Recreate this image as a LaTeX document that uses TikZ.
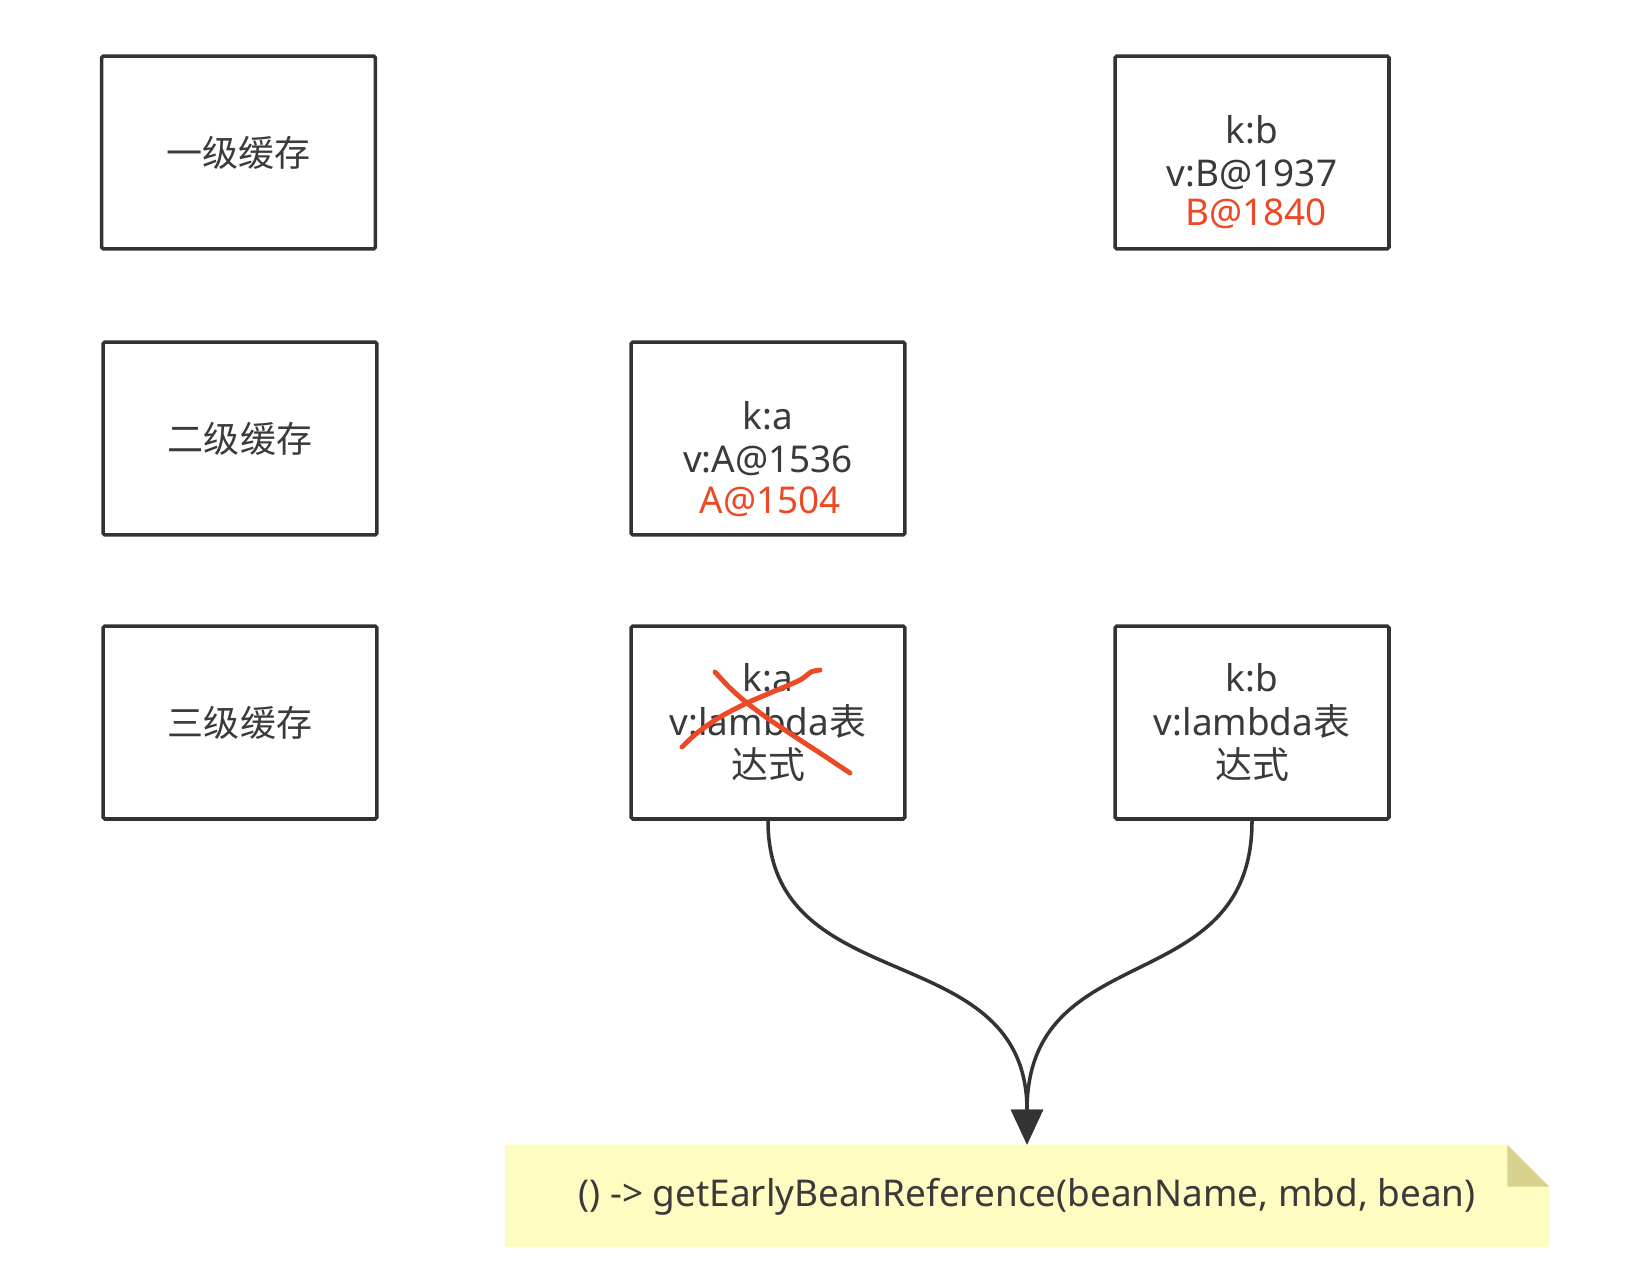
\documentclass[tikz,border=0pt]{standalone}
\usepackage{fontspec}
\setmainfont{Noto Sans}
\newfontfamily\cjk{Noto Sans CJK SC}
\usepackage{xcolor}
\usetikzlibrary{arrows.meta,positioning,backgrounds}
\definecolor{boxgray}{HTML}{333333}
\definecolor{txtgray}{HTML}{3A3A3A}
\definecolor{oldred}{HTML}{EC4A26}
\definecolor{notefill}{HTML}{FFFCC2}
\definecolor{notefold}{HTML}{D8D28E}

\begin{document}
\begin{tikzpicture}[
    x=0.02cm, y=-0.02cm,
    every node/.style={font=\fontsize{21pt}{24.7pt}\selectfont, text=txtgray},
    cachebox/.style={rectangle,draw=boxgray,line width=2pt,rounded corners=1pt,fill=white,minimum width=5.48cm,minimum height=3.86cm,align=center},
    cjktext/.style={font=\fontsize{20.5pt}{24.7pt}\selectfont\cjk},
    oldval/.style={text=oldred},
    notetext/.style={minimum width=20.88cm,minimum height=2.04cm,inner sep=0pt,text height=1.4em,text depth=0.18em},
    link/.style={-{Triangle[length=20pt,width=18pt]},line width=2pt,boxgray},
    strike/.style={oldred,line width=2.8pt,line cap=round,line join=round},
]
\useasboundingbox (0,0) rectangle (1628,1274);

% cache levels
\node[cachebox,cjktext] (l1) at (238.5,152.5) {一级缓存};
\node[cachebox,cjktext] (l2) at (240,438.5) {二级缓存};
\node[cachebox,cjktext] (l3) at (240,722.5) {三级缓存};

% entries
\node[cachebox] (b1) at (1252,152.5) {k:b\\v:B@1937};
\node[cachebox] (a2) at (768,438.5) {k:a\\v:A@1536};
\node[cachebox] (a3) at (768,722.5) {k:a\\v:lambda{\cjk 表}\\{\cjk 达式}};
\node[cachebox] (b3) at (1252,722.5) {k:b\\v:lambda{\cjk 表}\\{\cjk 达式}};

\node[oldval] (b1old) at ([xshift=0.08cm,yshift=-1.22cm]b1.center) {B@1840};
\node[oldval] (a2old) at ([xshift=0.04cm,yshift=-1.27cm]a2.center) {A@1504};

% removed entry
\draw[strike] plot[smooth] coordinates {(715,672) (730,688) (747,703) (770,720) (800,740) (820,753) (850,773)};
\draw[strike] plot[smooth] coordinates {(682,747) (697,733) (720,717) (747,703) (770,693) (800,680) (811,672) (820,670)};

% lambda
\node[notetext] (note) at (1027,1196) {() -> getEarlyBeanReference(beanName, mbd, bean)};
\begin{scope}[on background layer]
\fill[notefill] (note.north west) -- ([xshift=-0.84cm]note.north east) -- ([yshift=-0.84cm]note.north east)
    -- (note.south east) -- (note.south west) -- cycle;
\fill[notefold] ([xshift=-0.84cm]note.north east) -- ([yshift=-0.84cm]note.north east)
    -- ([xshift=-0.84cm,yshift=-0.84cm]note.north east) -- cycle;
\end{scope}

\draw[link] (a3.south) .. controls +(0,181) and +(0,-210) .. (note.north);
\draw[link] (b3.south) .. controls +(0,181) and +(0,-210) .. (note.north);
\end{tikzpicture}
\end{document}
